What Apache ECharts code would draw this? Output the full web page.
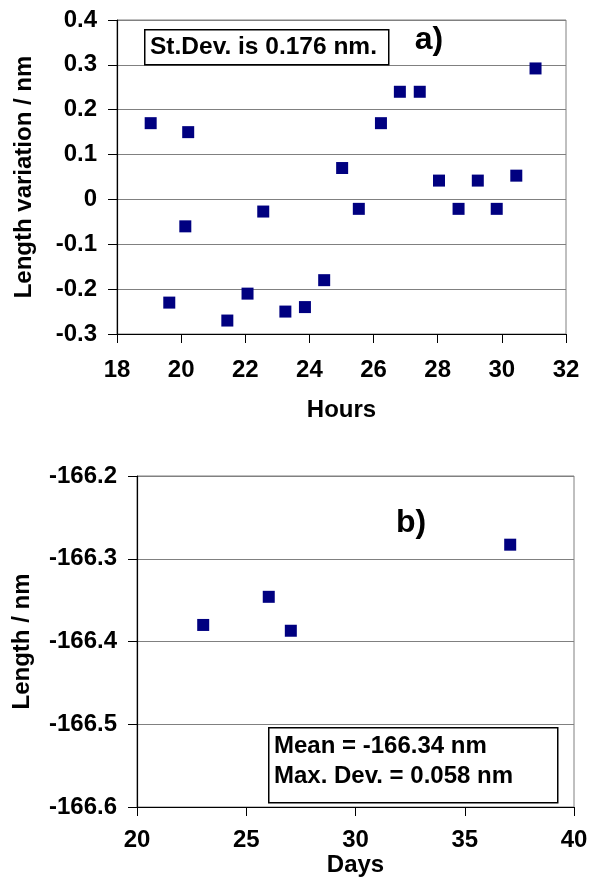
<!DOCTYPE html>
<html>
<head>
<meta charset="utf-8">
<script src="https://cdn.jsdelivr.net/npm/echarts@6/dist/echarts.min.js"></script>
<style>
  html, body { margin: 0; padding: 0; background: #fff; }
  #main { width: 596px; height: 881px; }
</style>
</head>
<body>
<div id="main"></div>
<script>
// panel a) - length variation vs hours
var hoursA = [19.05, 19.63, 20.13, 20.22, 21.44, 22.07, 22.56, 23.25, 23.86, 24.46, 25.02,
              25.54, 26.23, 26.82, 27.44, 28.04, 28.65, 29.25, 29.84, 30.45, 31.05];
var lenVarA = [0.17, -0.23, -0.06, 0.15, -0.27, -0.21, -0.027, -0.25, -0.24, -0.18, 0.07,
               -0.021, 0.17, 0.24, 0.24, 0.042, -0.021, 0.042, -0.021, 0.053, 0.292];
// panel b) - length vs days
var daysB = [23.03, 26.03, 27.04, 37.08];
var lenB = [-166.380, -166.346, -166.387, -166.283];

// axis ranges [min, max, interval]
var hoursAxis = [18, 32, 2];
var lenVarAxis = [-0.3, 0.4, 0.1];
var daysAxis = [20, 40, 5];
var lenAxis = [-166.6, -166.2, 0.1];

var fontName = "'Liberation Sans', Arial, sans-serif";
var boxTextA = 'St.Dev. is 0.176 nm.';
var boxTextB = ['Mean = -166.34 nm', 'Max. Dev. = 0.058 nm'];

function pairs(xs, ys) {
    return xs.map(function (x, i) { return [x, ys[i]]; });
}

function makeX(idx, r, gap, nameGap, name) {
    return {
        gridIndex: idx, type: 'value', min: r[0], max: r[1], interval: r[2],
        name: name, nameLocation: 'middle', nameGap: nameGap,
        nameTextStyle: { fontFamily: fontName, fontSize: 24, fontWeight: 'bold', color: '#000' },
        axisLine: { show: true, onZero: false, lineStyle: { color: '#000', width: 1.2 } },
        axisTick: { show: true, inside: false, length: 9, lineStyle: { color: '#000' } },
        axisLabel: { margin: gap, fontFamily: fontName, fontSize: 24, fontWeight: 'bold', color: '#000' },
        splitLine: { show: false }
    };
}

function makeY(idx, r, nameGap, name) {
    return {
        gridIndex: idx, type: 'value', min: r[0], max: r[1], interval: r[2],
        name: name, nameLocation: 'middle', nameGap: nameGap, nameRotate: 90,
        nameTextStyle: { fontFamily: fontName, fontSize: 24, fontWeight: 'bold', color: '#000' },
        axisLine: { show: true, onZero: false, lineStyle: { color: '#000', width: 1.2 } },
        axisTick: { show: true, inside: false, length: 9, lineStyle: { color: '#000' } },
        axisLabel: { margin: 20, fontFamily: fontName, fontSize: 24, fontWeight: 'bold', color: '#000' },
        splitLine: { show: true, lineStyle: { color: '#808080', width: 1 } }
    };
}

var dom = document.getElementById('main');
var myChart = echarts.init(dom);

var option = {
    animation: false,
    backgroundColor: '#fff',
    grid: [
        { left: 117, top: 20, width: 449, height: 314, show: true, borderColor: '#808080', borderWidth: 1 },
        { left: 137, top: 476, width: 437, height: 331, show: true, borderColor: '#808080', borderWidth: 1 }
    ],
    xAxis: [
        makeX(0, hoursAxis, 24, 64, 'Hours'),
        makeX(1, daysAxis, 21, 41, 'Days')
    ],
    yAxis: [
        makeY(0, lenVarAxis, 81, 'Length variation / nm'),
        makeY(1, lenAxis, 103, 'Length / nm')
    ],
    series: [
        {
            type: 'scatter', xAxisIndex: 0, yAxisIndex: 0,
            symbol: 'rect', symbolSize: 12,
            itemStyle: { color: '#000080', opacity: 1 },
            data: pairs(hoursA, lenVarA)
        },
        {
            type: 'scatter', xAxisIndex: 1, yAxisIndex: 1,
            symbol: 'rect', symbolSize: 12,
            itemStyle: { color: '#000080', opacity: 1 },
            data: pairs(daysB, lenB)
        }
    ],
    graphic: [
        {
            type: 'rect', left: 144, top: 29, z: 10,
            shape: { width: 244, height: 35 },
            style: { fill: '#fff', stroke: '#000', lineWidth: 1.5 }
        },
        {
            type: 'text', x: 150, y: 47, z: 11,
            style: { text: boxTextA, font: 'bold 24.5px ' + fontName, fill: '#000', verticalAlign: 'middle' }
        },
        {
            type: 'text', x: 429, y: 40, z: 11,
            style: { text: 'a)', font: 'bold 32px ' + fontName, fill: '#000', align: 'center', verticalAlign: 'middle' }
        },
        {
            type: 'text', x: 411, y: 523, z: 11,
            style: { text: 'b)', font: 'bold 32px ' + fontName, fill: '#000', align: 'center', verticalAlign: 'middle' }
        },
        {
            type: 'rect', left: 268, top: 727, z: 10,
            shape: { width: 289, height: 75 },
            style: { fill: '#fff', stroke: '#000', lineWidth: 1.5 }
        },
        {
            type: 'text', x: 274, y: 746, z: 11,
            style: { text: boxTextB[0], font: 'bold 24px ' + fontName, fill: '#000', verticalAlign: 'middle' }
        },
        {
            type: 'text', x: 274, y: 776, z: 11,
            style: { text: boxTextB[1], font: 'bold 24px ' + fontName, fill: '#000', verticalAlign: 'middle' }
        }
    ]
};

myChart.setOption(option);
</script>
</body>
</html>
